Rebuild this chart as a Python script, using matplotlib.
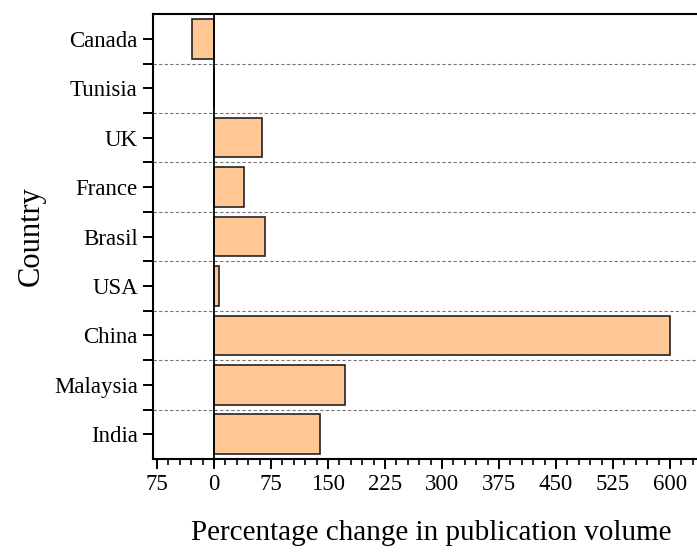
import matplotlib
matplotlib.use("Agg")
import matplotlib.pyplot as plt
from matplotlib.ticker import FixedLocator, MultipleLocator, FixedFormatter

plt.rcParams['font.family'] = ['Liberation Serif', 'DejaVu Serif']

countries = ["India", "Malaysia", "China", "USA", "Brasil", "France", "UK", "Tunisia", "Canada"]
pct_change = [140, 173, 600, 6, 67, 40, 63, 0, -29]
xtick_values = [-75, 0, 75, 150, 225, 300, 375, 450, 525, 600]
xtick_labels = ["75", "0", "75", "150", "225", "300", "375", "450", "525", "600"]

fig = plt.figure(figsize=(6.97, 5.52), dpi=100)
ax = fig.add_axes([0.2195, 0.1685, 0.7805, 0.806])

pos = list(range(len(countries)))
ax.barh(pos, pct_change, height=0.8, color="#FFC793", edgecolor="#222222",
        linewidth=1.2, zorder=3)
ax.axvline(0, color="black", linewidth=1.3, zorder=4)

ax.set_xlim(-80.3, 635.5)
ax.set_ylim(-0.5, len(countries) - 0.5)

# category boundaries as dashed separators
for b in [i + 0.5 for i in range(len(countries) - 1)]:
    ax.axhline(b, color="#777777", linestyle=(0, (3, 2)), linewidth=0.8, zorder=1)

ax.yaxis.set_major_locator(FixedLocator(pos))
ax.set_yticklabels(countries)
ax.yaxis.set_minor_locator(FixedLocator([i + 0.5 for i in range(len(countries) - 1)]))

ax.xaxis.set_major_locator(FixedLocator(xtick_values))
ax.xaxis.set_major_formatter(FixedFormatter(xtick_labels))
ax.xaxis.set_minor_locator(MultipleLocator(15))

ax.tick_params(axis="both", which="major", direction="out", length=7, width=1.4,
               labelsize=16.5, pad=4)
ax.tick_params(axis="y", which="minor", direction="out", length=7, width=1.4)
ax.tick_params(axis="x", which="minor", direction="out", length=4, width=1.2)

for side in ["left", "bottom", "top"]:
    ax.spines[side].set_linewidth(1.5)
ax.spines["right"].set_visible(False)

ax.set_ylabel("Country", fontsize=22, labelpad=6)
ax.set_xlabel("Percentage change in publication volume", fontsize=21)
ax.xaxis.set_label_coords(0.511, -0.137)

fig.savefig("out.png", dpi=100)
